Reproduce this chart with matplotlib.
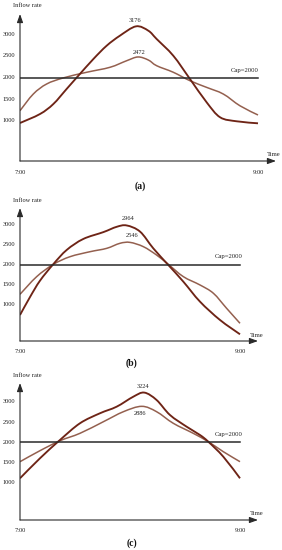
import numpy as np
import matplotlib.pyplot as plt
from matplotlib.path import Path
from matplotlib.patches import PathPatch

plt.rcParams['font.family'] = ['Liberation Serif', 'DejaVu Serif']

#--------------------------------------------#
# data (minutes after 7:00, inflow rate)
a_dark_t = [0, 10.1, 16.8, 23.5, 29.4, 37, 43.7, 50.4, 58.5, 64.7, 68.9, 77.3, 85.7, 94.1, 100.9, 109.3, 120]
a_dark_v = [954, 1161, 1390, 1736, 2040, 2425, 2731, 2962, 3176, 3076, 2885, 2500, 1966, 1430, 1085, 993, 947]
a_light_t = [0, 6.7, 13.4, 21.8, 33.6, 45.4, 53.8, 59.5, 64.7, 68.9, 77.3, 85.7, 94.1, 102.5, 110.9, 120]
a_light_v = [1237, 1620, 1850, 1990, 2120, 2235, 2386, 2472, 2402, 2271, 2120, 1926, 1773, 1620, 1350, 1138]

b_dark_t = [0, 5.5, 10.9, 18.2, 25.5, 34.5, 45.5, 52.7, 58.2, 65.5, 72.7, 80.9, 89.1, 98.2, 109.1, 120]
b_dark_v = [753, 1200, 1600, 2010, 2360, 2630, 2800, 2930, 2964, 2811, 2399, 1988, 1576, 1082, 630, 277]
b_light_t = [0, 9.1, 18.2, 27.3, 38.2, 47.3, 54.5, 60, 67.3, 74.5, 80.9, 89.1, 98.2, 105.5, 112.7, 120]
b_light_v = [1264, 1700, 2004, 2193, 2316, 2399, 2523, 2546, 2440, 2234, 2004, 1700, 1494, 1289, 918, 548]

c_dark_t = [0, 10.9, 21.8, 32.7, 43.6, 52.7, 61.8, 67.8, 74.5, 81.8, 90.9, 98.2, 102.7, 110.9, 120]
c_dark_v = [1116, 1608, 2058, 2469, 2715, 2877, 3123, 3224, 3042, 2673, 2385, 2180, 2016, 1647, 1116]
c_light_t = [0, 10.9, 21.8, 32.7, 45.5, 56.4, 66.4, 74.5, 83.6, 94.5, 102.7, 110.9, 120]
c_light_v = [1524, 1795, 2040, 2222, 2508, 2754, 2886, 2754, 2469, 2222, 2016, 1770, 1524]

cap = 2000
y_ticks = [1000, 1500, 2000, 2500, 3000]
x_tick_labels = ['7:00', '9:00']

dark_col = '#6e2416'
light_col = '#94604f'
axis_col = '#2a2a2a'

#--------------------------------------------#
W, H = 282, 550


def smooth_path(t, v):
    """catmull-rom spline drawn as cubic beziers"""
    pts = np.column_stack([t, v]).astype(float)
    verts = [pts[0]]
    codes = [Path.MOVETO]
    n = len(pts)
    for i in range(n - 1):
        p0 = pts[max(i - 1, 0)]
        p1 = pts[i]
        p2 = pts[i + 1]
        p3 = pts[min(i + 2, n - 1)]
        c1 = p1 + (p2 - p0) / 6.0
        c2 = p2 - (p3 - p1) / 6.0
        verts += [c1, c2, p2]
        codes += [Path.CURVE4] * 3
    return Path(verts, codes)


def panel(px_left, px_right, px_top, px_bot, t_end_px, y1000_px, y3000_px,
          dark, light, labels, cap_lab, caption):
    ax = fig.add_axes([px_left / W, 1 - px_bot / H,
                       (px_right - px_left) / W, (px_bot - px_top) / H])
    ppm = (t_end_px - px_left) / 120.0
    ax.set_xlim(0, (px_right - px_left) / ppm)
    ppv = (y1000_px - y3000_px) / 2000.0
    ax.set_ylim(1000 - (px_bot - y1000_px) / ppv, 3000 + (y3000_px - px_top) / ppv)
    for s in ax.spines.values():
        s.set_visible(False)
    ax.set_xticks([])
    ax.set_yticks([])
    ax.patch.set_alpha(0)

    # axes with arrows
    ax.annotate('', xy=(1, 0), xytext=(0, 0), xycoords='axes fraction',
                arrowprops=dict(arrowstyle='-|>,head_length=0.5,head_width=0.18',
                                color=axis_col, lw=0.8, shrinkA=0, shrinkB=0))
    ax.annotate('', xy=(0, 1), xytext=(0, 0), xycoords='axes fraction',
                arrowprops=dict(arrowstyle='-|>,head_length=0.5,head_width=0.18',
                                color=axis_col, lw=0.8, shrinkA=0, shrinkB=0))

    for yt in y_ticks:
        ax.text(-5 / ppm, yt, str(yt), ha='right', va='center', fontsize=4.6, color='#222')
    ax.text(0, -0.08, x_tick_labels[0], transform=ax.get_xaxis_transform(),
            ha='center', va='center', fontsize=4.6, color='#222')
    ax.text(120, -0.08, x_tick_labels[1], transform=ax.get_xaxis_transform(),
            ha='center', va='center', fontsize=4.6, color='#222')
    ax.text(7 / ppm, 1.055, 'Inflow rate', transform=ax.get_xaxis_transform(),
            ha='center', va='center', fontsize=4.6, color='#222')
    ax.text(0.965, 0.045, 'Time', transform=ax.transAxes,
            ha='left', va='center', fontsize=4.8, color='#222')

    ax.plot([0, 120], [cap, cap], color=axis_col, lw=1.1)
    ax.text(cap_lab[0], cap_lab[1], 'Cap=2000', ha='center', va='center',
            fontsize=4.8, color='#222')

    ax.add_patch(PathPatch(smooth_path(*light), fill=False, edgecolor=light_col, lw=1.1))
    ax.add_patch(PathPatch(smooth_path(*dark), fill=False, edgecolor=dark_col, lw=1.35))

    for tx, ty, s in labels:
        ax.text(tx, ty, s, ha='center', va='center', fontsize=4.6, color='#222')

    ax.text(0.47, caption[1], caption[0], transform=ax.transAxes, ha='center',
            va='center', fontsize=7, fontweight='bold', color='#111')
    return ax


fig = plt.figure(figsize=(W / 100, H / 100), dpi=100)

panel(20, 276, 14, 161, 258, 121, 34,
      (a_dark_t, a_dark_v), (a_light_t, a_light_v),
      [(58, 3306, '3176'), (60, 2580, '2472')], (113.5, 2170), ('(a)', -0.17))
panel(20, 258, 208, 341, 240, 305, 224,
      (b_dark_t, b_dark_v), (b_light_t, b_light_v),
      [(59, 3140, '2964'), (61.3, 2711, '2546')], (114, 2193), ('(b)', -0.17))
panel(20, 258, 383, 520, 240, 483, 401.7,
      (c_dark_t, c_dark_v), (c_light_t, c_light_v),
      [(67.3, 3369, '3224'), (65.5, 2715, '2886')], (114, 2200), ('(c)', -0.17))

fig.savefig('out.png', dpi=100)
